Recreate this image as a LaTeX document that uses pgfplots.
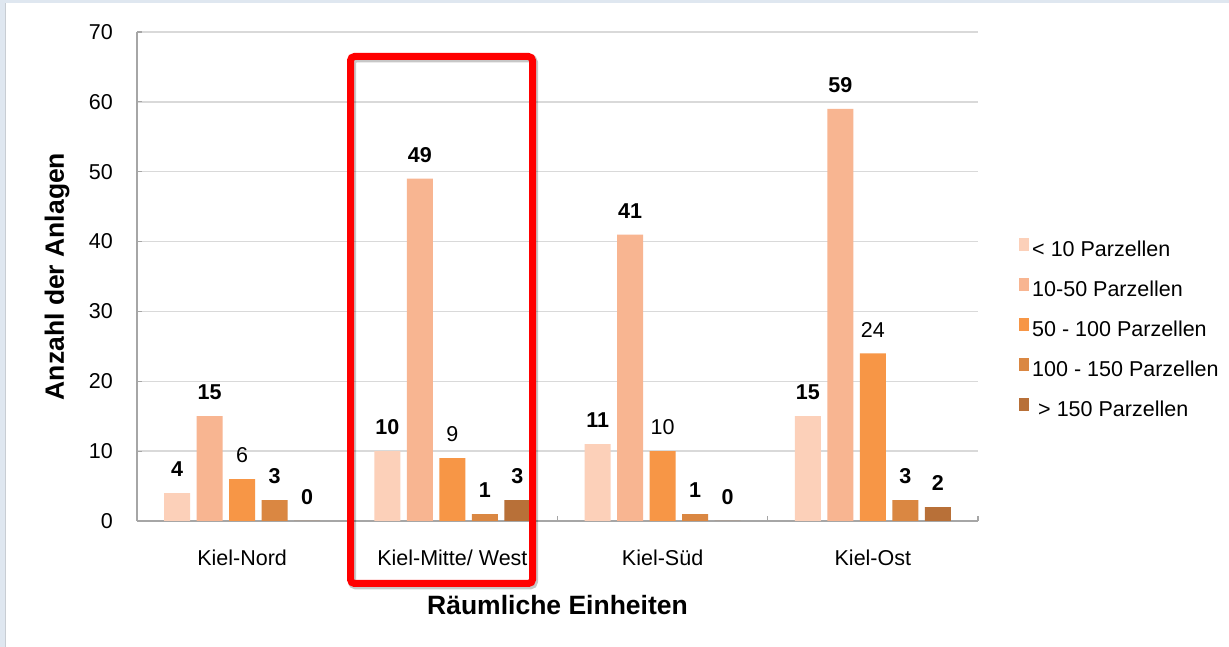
\documentclass[border=0pt]{standalone}
\usepackage{pgfplots}
\pgfplotsset{compat=1.18}
\usepackage{fontspec}
\setmainfont{Liberation Sans}

\definecolor{cA}{HTML}{FCD0B9}
\definecolor{cB}{HTML}{F8B591}
\definecolor{cC}{HTML}{F79646}
\definecolor{cD}{HTML}{DA8742}
\definecolor{cE}{HTML}{B87038}
\definecolor{framebg}{HTML}{DFE7F0}
\definecolor{framegray}{HTML}{C8CDD3}
\definecolor{axisgray}{HTML}{A6A6A6}
\definecolor{gridgray}{HTML}{D9D9D9}

\newcommand{\fnt}{\fontsize{21.5}{25}\selectfont}

\begin{document}
\begin{tikzpicture}[x=1pt,y=1pt]
\useasboundingbox (0,0) rectangle (1229,647);
\fill[framebg] (0,0) rectangle (1229,647);
\fill[white] (6,0) rectangle (1229,644);
\draw[framegray, line width=1pt] (5.5,0) -- (5.5,644);

\begin{axis}[
    at={(137pt,126pt)}, anchor=south west,
    width=841pt, height=489pt, scale only axis,
    ybar=6.5pt, bar width=26pt,
    xmin=-0.5, xmax=3.5, ymin=0, ymax=70,
    ytick={0,10,...,70},
    xtick={0.5,1.5,2.5,3.5}, xticklabels={},
    extra x ticks={0,1,2,3},
    extra x tick labels={Kiel-Nord, Kiel-Mitte/ West, Kiel-Süd, Kiel-Ost},
    extra x tick style={major tick length=0pt},
    axis x line*=bottom, axis y line*=left,
    axis line style={draw=axisgray, line width=1.5pt},
    tick style={draw=axisgray, line width=1.2pt},
    major tick length=5pt, tick align=inside,
    ymajorgrids, major grid style={draw=gridgray, line width=1.5pt},
    /pgf/number format/assume math mode=true,
    tick label style={font=\fnt, inner sep=0pt},
    yticklabel style={anchor=east, xshift=-24pt},
    xticklabel style={anchor=north, yshift=-29pt},
    xlabel={Räumliche Einheiten},
    ylabel={Anzahl der Anlagen},
    label style={font=\fontsize{26.5}{30}\selectfont\bfseries},
    xlabel style={at={(rel axis cs:0.5,-0.1718)}, anchor=center},
    ylabel style={at={(rel axis cs:-0.0951,0.5)}, anchor=center},
    nodes near coords,
    every node near coord/.append style={font=\fnt\bfseries, anchor=south, inner sep=0pt, yshift=16pt, text=black},
    legend style={at={(1.0488,0.579)}, anchor=north west, draw=none, fill=none,
        inner sep=0pt, font=\fnt, row sep=17pt,
        nodes={text height=14pt, text depth=4pt, inner ysep=1pt, inner xsep=3pt}},
    legend cell align=left,
    legend image code/.code={\fill[#1] (0pt,0.5pt) rectangle (10pt,13pt);},
    clip=false,
]
\addplot[fill=cA, draw=none] coordinates {(0,4) (1,10) (2,11) (3,15)};
\addplot[fill=cB, draw=none] coordinates {(0,15) (1,49) (2,41) (3,59)};
\addplot[fill=cC, draw=none, every node near coord/.append style={font=\fnt}] coordinates {(0,6) (1,9) (2,10) (3,24)};
\addplot[fill=cD, draw=none] coordinates {(0,3) (1,1) (2,1) (3,3)};
\addplot[fill=cE, draw=none] coordinates {(0,0) (1,3) (2,0) (3,2)};
\legend{< 10 Parzellen, 10-50 Parzellen, 50 - 100 Parzellen, 100 - 150 Parzellen, \hspace{6pt}> 150 Parzellen}
\end{axis}

% Markierung Kiel-Mitte/ West
\draw[black, opacity=0.22, line width=8pt, rounded corners=4pt] (352,61.5) rectangle (534,588.5);
\draw[red, line width=7pt, rounded corners=4pt] (350.5,63.5) rectangle (532.5,590.5);
\end{tikzpicture}
\end{document}
